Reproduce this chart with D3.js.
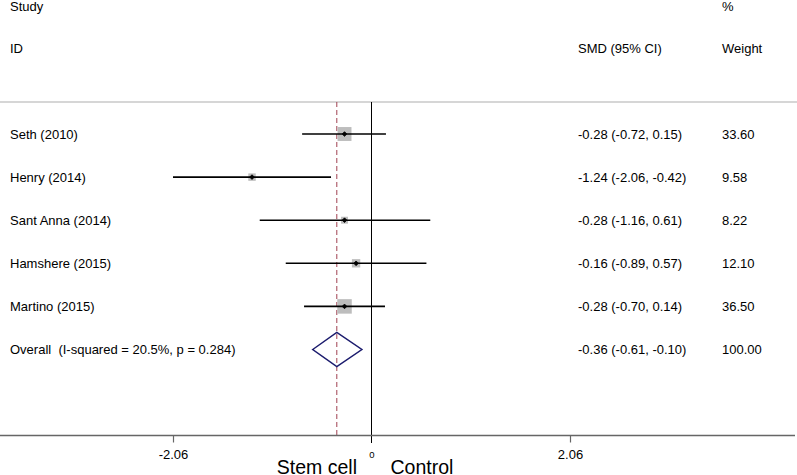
<!DOCTYPE html>
<html>
<head>
<meta charset="utf-8">
<script src="https://cdn.jsdelivr.net/npm/d3@7"></script>
<style>
  html, body { margin: 0; padding: 0; background: #fff; }
  svg { display: block; font-family: "Liberation Sans", Arial, sans-serif; }
  text { white-space: pre; }
</style>
</head>
<body>
<svg id="chart" width="797" height="475"></svg>
<script>
// ---- data ----
const studies = ["Seth (2010)", "Henry (2014)", "Sant Anna (2014)", "Hamshere (2015)", "Martino (2015)"];
const smd     = [-0.28, -1.24, -0.28, -0.16, -0.28];
const lower   = [-0.72, -2.06, -1.16, -0.89, -0.70];
const upper   = [0.15, -0.42, 0.61, 0.57, 0.14];
const weights = [33.60, 9.58, 8.22, 12.10, 36.50];

const overallLabel  = "Overall  (I-squared = 20.5%, p = 0.284)";
const overallEst    = -0.36;
const overallLower  = -0.61;
const overallUpper  = -0.10;
const overallWeight = 100.00;

const tickValues = [-2.06, 0, 2.06];
const headers = { study: "Study", id: "ID", smd: "SMD (95% CI)", pct: "%", weight: "Weight" };
const favourLeft = "Stem cell";
const favourRight = "Control";

// ---- layout ----
const svg = d3.select("#chart");
const W = 797, H = 475;
const x = d3.scaleLinear().domain([-2.06, 2.06]).range([173, 570]);
const y = d3.scaleLinear().domain([0, 5]).range([134, 349.5]);
const boxSide = d3.scaleSqrt().domain([0, 100]).range([0, 24]);

const fmt = v => v.toFixed(2);
const topY = 102, axisY = 435.5;
const colSMD = 578, colW = 722, colLabel = 10;

// headers
const hdr = svg.append("g").attr("font-size", 13).attr("fill", "#000");
hdr.append("text").attr("x", colLabel).attr("y", 11).text(headers.study);
hdr.append("text").attr("x", colLabel).attr("y", 53).text(headers.id);
hdr.append("text").attr("x", colSMD).attr("y", 53).text(headers.smd);
hdr.append("text").attr("x", colW).attr("y", 11).text(headers.pct);
hdr.append("text").attr("x", colW).attr("y", 53).text(headers.weight);

// top separator
svg.append("line").attr("x1", 0).attr("x2", W).attr("y1", topY).attr("y2", topY)
  .attr("stroke", "#c8c8c8").attr("stroke-width", 1.5);

// null line
svg.append("line").attr("x1", x(0)).attr("x2", x(0)).attr("y1", topY).attr("y2", axisY + 7.5)
  .attr("stroke", "#000").attr("stroke-width", 1);

// overall dashed line
svg.append("line").attr("x1", x(overallEst)).attr("x2", x(overallEst)).attr("y1", topY).attr("y2", axisY)
  .attr("stroke", "#a04050").attr("stroke-width", 1).attr("stroke-dasharray", "5,3");

// studies
const rows = svg.append("g");
studies.forEach((s, i) => {
  const yy = y(i);
  const side = boxSide(weights[i]);
  rows.append("rect")
    .attr("x", x(smd[i]) - side / 2).attr("y", yy - side / 2)
    .attr("width", side).attr("height", side)
    .attr("fill", "#bdbdbd");
  rows.append("line")
    .attr("x1", x(lower[i])).attr("x2", x(upper[i]))
    .attr("y1", yy).attr("y2", yy)
    .attr("stroke", "#000").attr("stroke-width", 1.6);
  rows.append("path")
    .attr("d", d3.symbol(d3.symbolDiamond2, 14)())
    .attr("transform", `translate(${x(smd[i])},${yy})`)
    .attr("fill", "#000").attr("stroke", "#000").attr("stroke-width", 0.8);
  rows.append("text").attr("x", colLabel).attr("y", yy + 4.7).attr("font-size", 13).text(s);
  rows.append("text").attr("x", colSMD).attr("y", yy + 4.7).attr("font-size", 13)
    .text(`${fmt(smd[i])} (${fmt(lower[i])}, ${fmt(upper[i])})`);
  rows.append("text").attr("x", colW).attr("y", yy + 4.7).attr("font-size", 13).text(fmt(weights[i]));
});

// overall
const oy = y(5);
svg.append("path")
  .attr("d", `M${x(overallLower)},${oy} L${x(overallEst)},${oy - 17} L${x(overallUpper)},${oy} L${x(overallEst)},${oy + 17} Z`)
  .attr("fill", "none").attr("stroke", "#1c1c6e").attr("stroke-width", 1.5);
svg.append("text").attr("x", colLabel).attr("y", oy + 4.7).attr("font-size", 13)
  .attr("xml:space", "preserve").text(overallLabel);
svg.append("text").attr("x", colSMD).attr("y", oy + 4.7).attr("font-size", 13)
  .text(`${fmt(overallEst)} (${fmt(overallLower)}, ${fmt(overallUpper)})`);
svg.append("text").attr("x", colW).attr("y", oy + 4.7).attr("font-size", 13).text(fmt(overallWeight));

// axis
svg.append("line").attr("x1", 0).attr("x2", 795).attr("y1", axisY).attr("y2", axisY)
  .attr("stroke", "#666").attr("stroke-width", 1.3);
const axis = d3.axisBottom(x).tickValues(tickValues).tickSize(7).tickSizeOuter(0)
  .tickFormat(d => d === 0 ? "0" : fmt(d));
const ag = svg.append("g").attr("transform", `translate(0,${axisY})`).call(axis);
ag.select(".domain").remove();
ag.selectAll(".tick line").attr("stroke", "#666").attr("stroke-width", 1.2)
  .filter(d => d === 0).remove();
ag.selectAll(".tick text")
  .attr("fill", "#000").attr("font-family", "Liberation Sans, Arial, sans-serif")
  .attr("font-size", d => d === 0 ? 9.5 : 13)
  .attr("dy", 0)
  .attr("y", d => d === 0 ? 22.8 : 23.5);

// favour labels
svg.append("text").attr("x", x(0) - 14.5).attr("y", 473.5).attr("font-size", 19.5)
  .attr("text-anchor", "end").text(favourLeft);
svg.append("text").attr("x", x(0) + 19).attr("y", 473.5).attr("font-size", 19.5)
  .text(favourRight);
</script>
</body>
</html>
